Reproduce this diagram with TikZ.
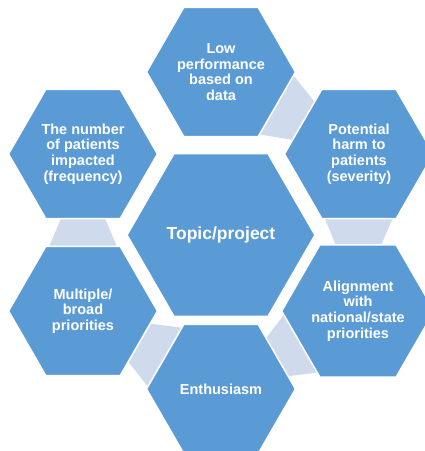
\documentclass[tikz,border=0pt]{standalone}
\usepackage{fontspec}
\setmainfont{Liberation Sans}
\usetikzlibrary{shapes.geometric,calc}
\definecolor{hexblue}{HTML}{5B9BD5}
\definecolor{connlight}{HTML}{CFDBEC}
\begin{document}
\begin{tikzpicture}[x=1pt,y=1pt,
  hexo/.style={regular polygon, regular polygon sides=6, minimum size=149pt,
    inner sep=0pt, outer sep=0pt, fill=hexblue, draw=white, line width=1.5pt,
    text=white, align=center, font=\fontsize{14.5}{15.6}\selectfont\bfseries},
  hexc/.style={hexo, minimum size=188pt, font=\fontsize{17.5}{20}\selectfont\bfseries},
  conn/.style={fill=connlight}]
\useasboundingbox (0,0) rectangle (425,451);
\coordinate (cTop) at (221,379);
\coordinate (cTR)  at (359,297);
\coordinate (cBR)  at (358,140);
\coordinate (cBot) at (221,62);
\coordinate (cBL)  at (83,140);
\coordinate (cTL)  at (83,297);
\foreach \n/\p [count=\i] in {cBL/cTL, cBot/cBL, cBR/cBot, cTR/cBR, cTop/cTR}{
  \path ($(\n)!62pt!(\p)$) coordinate (w\i) ($(\p)!62pt!(\n)$) coordinate (m\i);
  \fill[conn] ($(w\i)!35pt!90:(m\i)$) -- ($(m\i)!21pt!-90:(w\i)$)
    -- ($(m\i)!21pt!90:(w\i)$) -- ($(w\i)!35pt!-90:(m\i)$) -- cycle;
}
\node[hexc] (center) at (221,216) {Topic/project};
\node[hexo] (top) at (cTop) {Low\\performance\\based on\\data};
\node[hexo] (tr) at (cTR) {Potential\\harm to\\patients\\(severity)};
\node[hexo] (br) at (cBR) {Alignment\\with\\national/state\\priorities};
\node[hexo] (bot) at (cBot) {Enthusiasm};
\node[hexo] (bl) at (cBL) {Multiple/\\broad\\priorities};
\node[hexo] (tl) at (cTL) {The number\\of patients\\impacted\\(frequency)};
\end{tikzpicture}
\end{document}
